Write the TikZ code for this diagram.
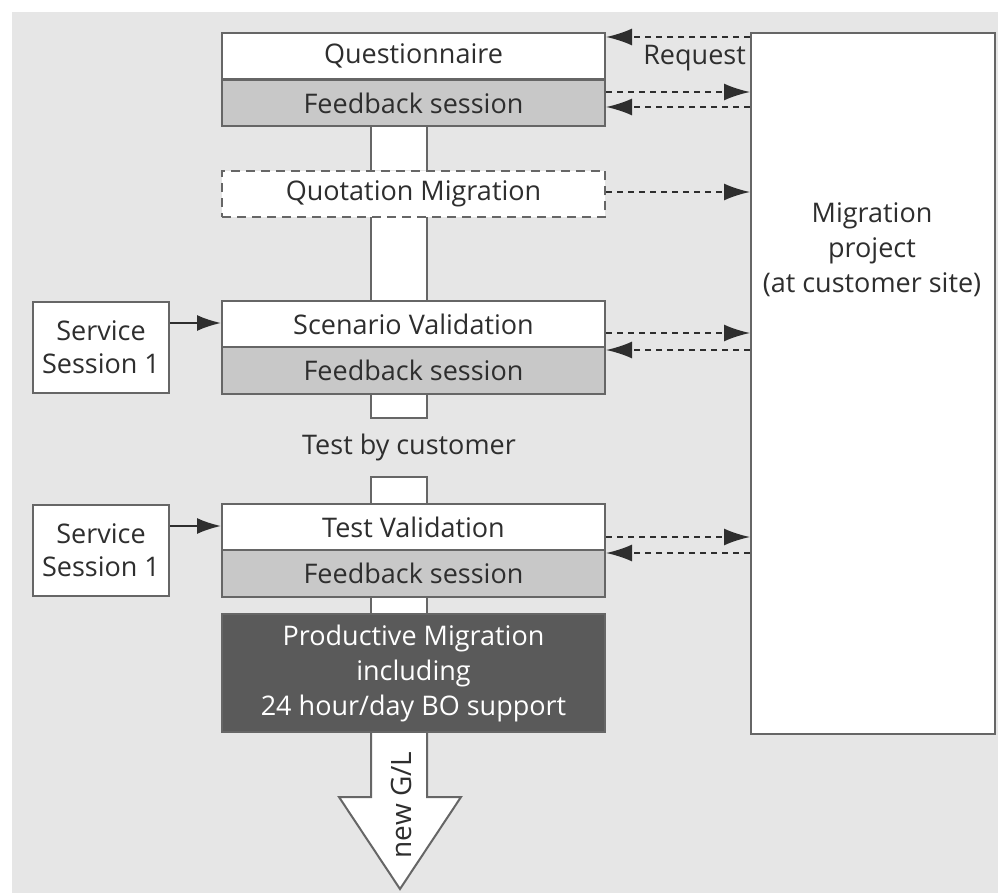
\documentclass[tikz,border=0pt]{standalone}
\usepackage{fontspec}
\setmainfont{Open Sans}
\usetikzlibrary{arrows.meta}
\definecolor{bg}{HTML}{E6E6E6}
\definecolor{frame}{HTML}{666666}
\definecolor{fb}{HTML}{C8C8C8}
\definecolor{dark}{HTML}{5A5A5A}
\definecolor{ink}{HTML}{2E2E2E}
\begin{document}
\begin{tikzpicture}[x=1pt,y=-1pt,
  font=\fontsize{27}{35}\selectfont, text=ink,
  stage/.style={draw=frame, line width=2pt, fill=white, minimum width=383pt,
    minimum height=46.5pt, inner sep=0pt, anchor=north west},
  fbstage/.style={stage, fill=fb},
  sidebox/.style={draw=frame, line width=2pt, fill=white, minimum width=136pt,
    minimum height=91pt, inner sep=0pt, anchor=north west, align=center,
    font=\fontsize{27}{33}\selectfont},
  column/.style={draw=frame, line width=2pt, fill=white},
  darr/.style={draw=ink, line width=2pt, dash pattern=on 6pt off 5pt,
    -{Latex[length=26pt,width=17pt]}},
  sarr/.style={draw=ink, line width=2pt, -{Latex[length=24pt,width=16pt]}}
]
\useasboundingbox (0,0) rectangle (998,893);
\fill[bg] (12,12) rectangle (998,893);

% white column joining the stages
\fill[white] (371,125) rectangle (427,170);
\draw[frame, line width=2pt] (371,125) -- (371,170) (427,125) -- (427,170);
\fill[white] (371,215) rectangle (427,300);
\draw[frame, line width=2pt] (371,215) -- (371,300) (427,215) -- (427,300);
\draw[column] (371,392) -- (371,418) -- (427,418) -- (427,392);
\draw[column] (371,503) -- (371,477) -- (427,477) -- (427,503);
\fill[white] (371,596) rectangle (427,613);
\draw[frame, line width=2pt] (371,596) -- (371,613) (427,596) -- (427,613);

% outgoing arrow
\draw[column, line join=miter] (371,731) -- (371,797) -- (339,797) -- (400,889)
  -- (461,797) -- (427,797) -- (427,731);
\node[rotate=90, font=\fontsize{28}{32}\selectfont] (ngl) at (401,805) {new G/L};

% stages
\node[stage] (q) at (221,32) {Questionnaire};
\node[fbstage] (qf) at (221,79) {Feedback session};
\node[stage, dash pattern=on 9pt off 6pt] (quot) at (221,170) {Quotation Migration};
\node[stage] (sv) at (221,300) {Scenario Validation};
\node[fbstage] (svf) at (221,346) {Feedback session};
\node (tbc) at (409,447) {Test by customer};
\node[stage] (tv) at (221,503) {Test Validation};
\node[fbstage] (tvf) at (221,549) {Feedback session};
\node[stage, fill=dark, text=white, minimum height=118pt, align=center] (prod)
  at (221,613) {Productive Migration\\including\\24 hour/day BO support};

% customer project
\node[draw=frame, line width=2pt, fill=white, minimum width=244pt,
  minimum height=701pt, inner sep=0pt, anchor=north west] (mp) at (750,32) {};
\node[align=center] (mptext) at (872,250) {Migration\\project\\(at customer site)};
\node[anchor=east, inner sep=0pt] (req) at (746,58) {Request};

% service sessions
\node[sidebox] (s1) at (32,301) {Service\\Session 1};
\node[sidebox] (s2) at (32,504) {Service\\Session 1};
\draw[sarr] (s1.east |- 0,323) -- (sv.west |- 0,323);
\draw[sarr] (s2.east |- 0,526) -- (tv.west |- 0,526);

% exchanges with the project
\draw[darr] (mp.west |- 0,37) -- (q.east |- 0,37);
\draw[darr] (qf.east |- 0,92) -- (mp.west |- 0,92);
\draw[darr] (mp.west |- 0,107) -- (qf.east |- 0,107);
\draw[darr] (quot.east |- 0,192) -- (mp.west |- 0,192);
\draw[darr] (sv.east |- 0,333) -- (mp.west |- 0,333);
\draw[darr] (mp.west |- 0,350) -- (svf.east |- 0,350);
\draw[darr] (tv.east |- 0,537) -- (mp.west |- 0,537);
\draw[darr] (mp.west |- 0,553) -- (tvf.east |- 0,553);
\end{tikzpicture}
\end{document}
